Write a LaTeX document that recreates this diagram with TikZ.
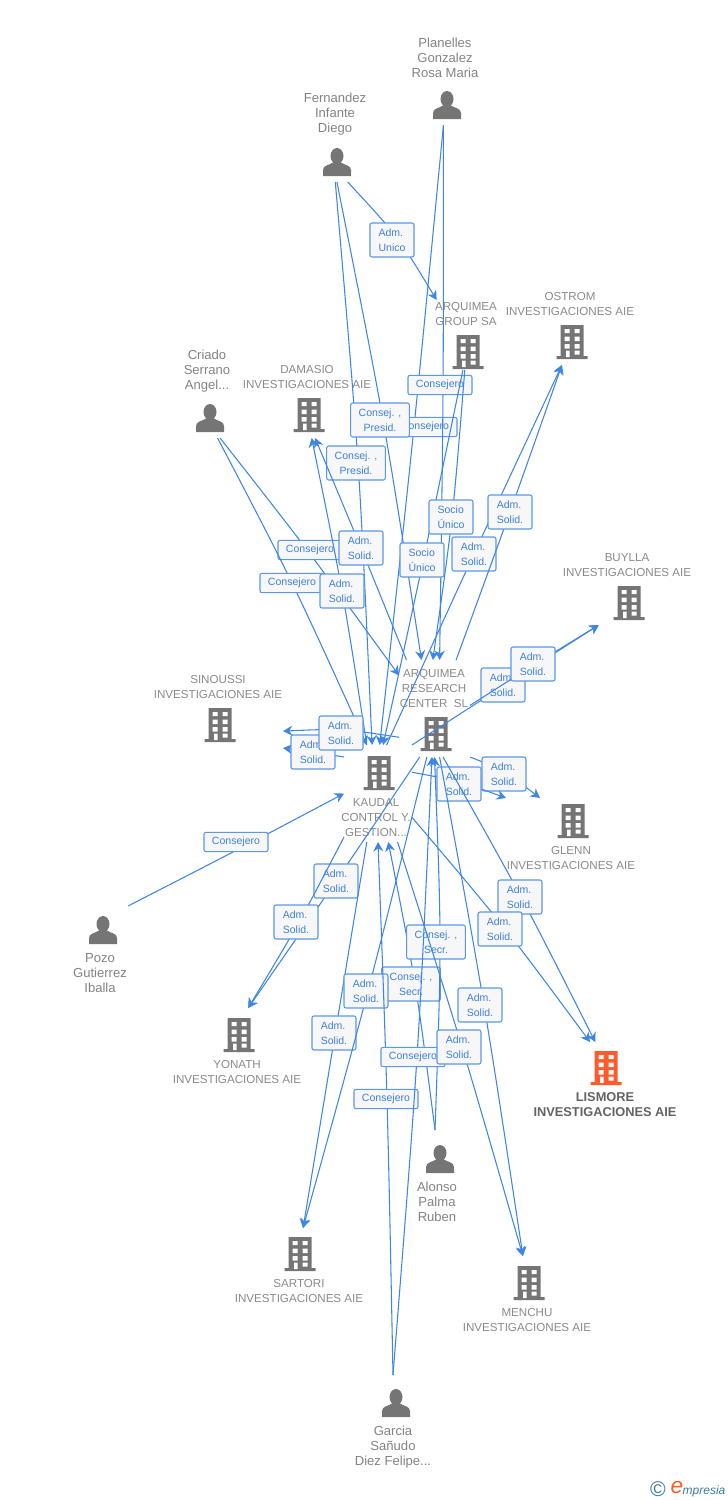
\documentclass[tikz,border=0pt]{standalone}
\usepackage{fontspec}
\setmainfont{Liberation Sans}
\usetikzlibrary{arrows.meta,calc,fit}

\definecolor{linkblue}{HTML}{3F86E4}
\definecolor{labelblue}{HTML}{3E80DC}
\definecolor{iconstone}{HTML}{757575}
\definecolor{inkgrey}{HTML}{8A8A8A}
\definecolor{hotorange}{HTML}{FF5B2C}
\definecolor{markblue}{HTML}{3D7A9E}

\tikzset{
	entitybox/.style={inner sep=0pt, outer sep=0pt},
	link/.style={linkblue, line width=0.8pt, -{Stealth[length=7pt, width=7.5pt]}},
	via/.style={to path={.. controls ($1.3333*(#1)-0.1667*(\tikztostart)-0.1667*(\tikztotarget)$) .. (\tikztotarget) \tikztonodes}},
	lab/.style={draw=linkblue!85!white, line width=0.8pt, rounded corners=1.5pt, fill=white!97!black, text=labelblue, inner sep=0pt, align=center, font=\fontsize{7.9}{11.25}\selectfont},
	labwide/.style={lab, minimum width=44pt, minimum height=25.5pt},
	admlab/.style={lab, minimum width=33pt, minimum height=25.5pt, align=left},
	seatlab/.style={lab, minimum width=48pt, minimum height=14.5pt},
	orgtext/.style={text=inkgrey, align=center, inner sep=0pt, font=\fontsize{8.7}{11.25}\selectfont},
	persontext/.style={text=inkgrey!95!black, align=center, inner sep=0pt, font=\fontsize{9.8}{11.25}\selectfont},
	building/.pic={
		\fill[pic actions] (-11.5,-17) rectangle (11.5,15) (-15.5,14) rectangle (15.5,17);
		\fill[white] (-7.5,-13) rectangle (-2.5,-9) (2.5,-13) rectangle (7.5,-9)
			(-7.5,-5.5) rectangle (-2.5,-1) (2.5,-5.5) rectangle (7.5,-1)
			(-7.5,2) rectangle (-2.5,6.5) (2.5,2) rectangle (7.5,6.5)
			(-6,8.5) rectangle (-2.5,15) (2.5,8.5) rectangle (7.5,12.5);
	},
	person/.pic={
		\fill[iconstone] (0,-6) ellipse (6.5 and 8);
		\fill[iconstone] (-14,14) -- (-14,8) .. controls (-14,3) and (-7,3) .. (-3,0) -- (3,0) .. controls (7,3) and (14,3) .. (14,8) -- (14,14) -- cycle;
	}
}

\begin{document}
\begin{tikzpicture}[x=0.75pt, y=-0.75pt]
	\useasboundingbox (0,0) rectangle (728,1500);

	% the boxes the connectors stop at
	\node[entitybox, fit={(410,35) (480,125)}] (planelles) {};
	\node[entitybox, fit={(303,90) (366,182)}] (fernandez) {};
	\node[entitybox, fit={(184,348) (232,438)}] (criado) {};
	\node[entitybox, fit={(72,906) (128,995)}] (pozo) {};
	\node[entitybox, fit={(417,1130) (458,1225)}] (alonso) {};
	\node[entitybox, fit={(353,1375) (433,1470)}] (garcia) {};
	\node[entitybox, fit={(435,300) (497,370)}] (group) {};
	\node[entitybox, fit={(505,289) (635,365)}] (ostrom) {};
	\node[entitybox, fit={(242,362) (372,438)}] (damasio) {};
	\node[entitybox, fit={(562,550) (692,625)}] (buylla) {};
	\node[entitybox, fit={(153,672) (283,748)}] (sinoussi) {};
	\node[entitybox, fit={(399,660) (470,757)}] (research) {};
	\node[entitybox, fit={(344,745) (412,842)}] (kaudal) {};
	\node[entitybox, fit={(506,798) (636,872)}] (glenn) {};
	\node[entitybox, fit={(172,1008) (302,1086)}] (yonath) {};
	\node[entitybox, fit={(532,1042) (678,1120)}] (lismore) {};
	\node[entitybox, fit={(234,1228) (364,1305)}] (sartori) {};
	\node[entitybox, fit={(462,1256) (592,1334)}] (menchu) {};

	% icons
	\foreach \px/\py in {447/105, 337/162, 210/418, 103/930, 440/1159, 396/1403}
		\pic at (\px,\py) {person};
	\foreach \bx/\by in {468/352, 572/342, 309/415, 629/603, 220/725, 436/734, 379/773, 573/821, 239/1035, 300/1254, 529/1283}
		\pic[iconstone] at (\bx,\by) {building};
	\pic[hotorange] at (606,1068) {building};

	% names
	\node[persontext] (planellestext) at (445,57.5) {Planelles\\Gonzalez\\Rosa Maria};
	\node[persontext] (fernandeztext) at (335,114) {Fernandez\\Infante\\Diego};
	\node[persontext] (criadotext) at (207,371) {Criado\\Serrano\\Angel...};
	\node[persontext] (pozotext) at (100,973) {Pozo\\Gutierrez\\Iballa};
	\node[persontext] (alonsotext) at (437,1201.5) {Alonso\\Palma\\Ruben};
	\node[persontext] (garciatext) at (393,1447) {Garcia\\Sañudo\\Diez Felipe...};
	\node[orgtext] (grouptext) at (466,314) {ARQUIMEA\\GROUP SA};
	\node[orgtext] (ostromtext) at (570,304) {OSTROM\\INVESTIGACIONES AIE};
	\node[orgtext] (damasiotext) at (307,377) {DAMASIO\\INVESTIGACIONES AIE};
	\node[orgtext] (buyllatext) at (627,565) {BUYLLA\\INVESTIGACIONES AIE};
	\node[orgtext] (sinoussitext) at (218,687) {SINOUSSI\\INVESTIGACIONES AIE};
	\node[orgtext] (researchtext) at (434,688) {ARQUIMEA\\RESEARCH\\CENTER\ \ SL};
	\node[orgtext] (kaudaltext) at (376,818) {KAUDAL\\CONTROL Y.\\GESTION...};
	\node[orgtext] (glenntext) at (571,858) {GLENN\\INVESTIGACIONES AIE};
	\node[orgtext] (yonathtext) at (237,1072) {YONATH\\INVESTIGACIONES AIE};
	\node[orgtext, text=iconstone!85!black, font=\fontsize{9.6}{11.25}\selectfont\bfseries] (lismoretext) at (605,1105) {LISMORE\\INVESTIGACIONES AIE};
	\node[orgtext] (sartoritext) at (299,1291) {SARTORI\\INVESTIGACIONES AIE};
	\node[orgtext] (menchutext) at (527,1320) {MENCHU\\INVESTIGACIONES AIE};

	% connectors, each with its label on top
	\draw[link] (fernandez.-74) to[via={397,238}] (group.130);
	\node[admlab] (l1) at (392,240) {Adm.\\Unico};
	\draw[link] (fernandez.-89) to[via={358,463}] (kaudal.97);
	\node[labwide] (l2) at (356,463) {Consej. ,\\Presid.};
	\draw[link] (planelles.-92) to[via={413,437}] (kaudal.88);
	\node[seatlab] (l4) at (425,427) {Consejero};
	\draw[link] (fernandez.-87) to[via={383,420}] (research.105);
	\node[labwide] (l3) at (380,420) {Consej. ,\\Presid.};
	\draw[link] (planelles.-92) to[via={443,395}] (research.84);
	\node[seatlab] (l5) at (440,385) {Consejero};
	\draw[link] (group.-95) to[via={424,557}] (kaudal.84);
	\node[admlab] (l6) at (422,560) {Socio\\Único};
	\draw[link] (group.-92) to[via={452,517}] (research.92);
	\node[admlab] (l7) at (451,517) {Socio\\Único};
	\draw[link] (kaudal.80) to[via={474,554}] (ostrom.-102);
	\node[admlab] (l8) at (474,554) {Adm.\\Solid.};
	\draw[link] (research.66) to[via={510,512}] (ostrom.-102);
	\node[admlab] (l9) at (510,512) {Adm.\\Solid.};
	\draw[link] (criado.-75) to[via={307,550}] (research.137);
	\node[seatlab] (l12) at (310,550) {Consejero};
	\draw[link] (research.120) to[via={361,548}] (damasio.-78);
	\node[admlab] (l10) at (361,548) {Adm.\\Solid.};
	\draw[link] (criado.-78) to[via={292,583}] (kaudal.103);
	\node[seatlab] (l13) at (292,583) {Consejero};
	\draw[link] (kaudal.103) to[via={342,591}] (damasio.-83);
	\node[admlab] (l11) at (342,591) {Adm.\\Solid.};
	\draw[link] (kaudal.133) to[via={313,752}] (sinoussi.south east);
	\node[admlab] (l15) at (313,752) {Adm.\\Solid.};
	\draw[link] (research.-141) to[via={341,730}] (sinoussi.-18);
	\node[admlab] (l14) at (341,733) {Adm.\\Solid.};
	\draw[link] (kaudal.north east) to[via={505,685}] (buylla.-127);
	\node[admlab] (l17) at (503,685) {Adm.\\Solid.};
	\draw[link] (research.5) to[via={534,665}] (buylla.-127);
	\node[admlab] (l16) at (533,664) {Adm.\\Solid.};
	\draw[link] (research.south east) to[via={504,772}] (glenn.130);
	\node[admlab] (l18) at (504,774) {Adm.\\Solid.};
	\draw[link] (kaudal.32) to[via={459,782}] (glenn.north west);
	\node[admlab] (l19) at (459,784) {Adm.\\Solid.};
	\draw[link] (research.-107) to[via={336,881}] (yonath.74);
	\node[admlab] (l23) at (336,881) {Adm.\\Solid.};
	\draw[link] (kaudal.-128) to[via={299,922}] (yonath.74);
	\node[admlab] (l22) at (296,922) {Adm.\\Solid.};
	\draw[link] (research.-80) to[via={521,897}] (lismore.104);
	\node[admlab] (l20) at (520,897) {Adm.\\Solid.};
	\draw[link] (kaudal.-35) to[via={505,929}] (lismore.111);
	\node[admlab] (l21) at (500,929) {Adm.\\Solid.};
	\draw[link] (kaudal.-103) to[via={336,1033}] (sartori.84);
	\node[admlab] (l24) at (334,1033) {Adm.\\Solid.};
	\draw[link] (alonso.93) to[via={415,984}] (kaudal.-78);
	\node[labwide] (l26) at (411,984) {Consej. ,\\Secr.};
	\draw[link] (alonso.93) to[via={440,942}] (research.south);
	\node[labwide] (l27) at (436,942) {Consej. ,\\Secr.};
	\draw[link] (research.-99) to[via={368,991}] (sartori.84);
	\node[admlab] (l25) at (366,991) {Adm.\\Solid.};
	\draw[link] (garcia.north) to[via={387,1099}] (kaudal.south);
	\node[seatlab] (l28) at (386,1099) {Consejero};
	\draw[link] (garcia.north) to[via={417,1057}] (research.-93);
	\node[seatlab] (l29) at (413,1057) {Consejero};
	\draw[link] (research.-84) to[via={484,1005}] (menchu.96);
	\node[admlab] (l30) at (480,1005) {Adm.\\Solid.};
	\draw[link] (kaudal.-68) to[via={462,1047}] (menchu.96);
	\node[admlab] (l31) at (459,1047) {Adm.\\Solid.};
	\draw[link] (pozo.north east) to[via={236,850.5}] (kaudal.west);
	\node[seatlab] (l32) at (236,842) {Consejero};

	% corner mark
	\node[text=markblue, font=\fontsize{16}{16}\selectfont, inner sep=0pt] (copymark) at (658,1489) {©};
	\node[text=hotorange, font=\fontsize{17}{17}\selectfont\itshape, inner sep=0pt] (empmark) at (677,1487) {e};
	\node[text=markblue, font=\fontsize{9}{10}\selectfont\itshape, inner sep=0pt] (empname) at (704,1491) {mpresia};
\end{tikzpicture}
\end{document}
